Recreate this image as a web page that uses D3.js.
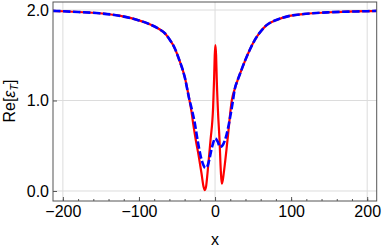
<!DOCTYPE html>
<html>
<head>
<meta charset="utf-8">
<script src="https://cdn.jsdelivr.net/npm/d3@7"></script>
<style>
body { margin: 0; background: #fff; }
svg { display: block; font-family: "Liberation Sans", Arial, sans-serif; }
</style>
</head>
<body>
<script>
// values
var redX = [-213, -200, -180, -152, -126, -100, -86, -73, -66, -60, -53, -47, -40, -34, -31, -28.8, -25.3, -21.3, -17.8, -15.1, -13.4, -11.6, -9.9, -5.9, -2.5, -1.2, -0.4, 0.5, 1.4, 2.2, 3.8, 5.9, 7.6, 8.8, 10.2, 11.8, 16.4, 22, 26, 29.5, 32.6, 39, 45.7, 52, 58.8, 67.4, 80.6, 98, 116, 133, 151, 175, 200, 213];
var redY = [1.99, 1.986, 1.978, 1.964, 1.937, 1.885, 1.843, 1.787, 1.743, 1.677, 1.578, 1.448, 1.264, 1.02, 0.88, 0.748, 0.564, 0.379, 0.196, 0.048, 0.01, 0.06, 0.196, 0.564, 0.932, 1.25, 1.5, 1.613, 1.5, 1.25, 0.89, 0.564, 0.22, 0.08, 0.12, 0.22, 0.564, 1.0, 1.13, 1.22, 1.29, 1.43, 1.56, 1.665, 1.75, 1.83, 1.89, 1.935, 1.955, 1.967, 1.975, 1.982, 1.987, 1.99];

var blueX = [-213, -200, -180, -152, -126, -100, -86, -73, -66, -60, -53, -47, -40, -34, -30.5, -26.6, -23, -18.7, -15.5, -12.8, -10, -8.2, -3.8, 0.3, 3.5, 6.5, 9.5, 12.5, 15.1, 19.5, 23, 26, 29.5, 32.6, 39, 45.7, 52, 58.8, 67.4, 80.6, 98, 116, 133, 151, 175, 200, 213];
var blueY = [1.99, 1.986, 1.978, 1.964, 1.937, 1.885, 1.843, 1.787, 1.743, 1.677, 1.578, 1.448, 1.264, 1.02, 0.9, 0.748, 0.564, 0.379, 0.29, 0.255, 0.275, 0.324, 0.49, 0.58, 0.545, 0.488, 0.5, 0.55, 0.62, 0.8, 0.97, 1.13, 1.22, 1.29, 1.43, 1.56, 1.665, 1.75, 1.83, 1.89, 1.935, 1.955, 1.967, 1.975, 1.982, 1.987, 1.99];

var xMajor = [-200, -100, 0, 100, 200];
var xMinor = d3.range(-200, 201, 20);
var yMajor = [0, 1, 2];

var width = 382, height = 250;
var frameL = 53, frameR = 376.7, frameT = 2, frameB = 201;

var x = d3.scaleLinear().domain([-213, 212.5]).range([frameL, frameR]);
var y = d3.scaleLinear().domain([-0.1105, 2.0884]).range([frameB, frameT]);

var svg = d3.select('body').append('svg')
	.attr('width', width)
	.attr('height', height);

svg.append('clipPath').attr('id', 'frame')
	.append('rect')
	.attr('x', frameL).attr('y', frameT)
	.attr('width', frameR - frameL).attr('height', frameB - frameT);

// grid
var grid = svg.append('g').attr('stroke', '#dcdcdc').attr('stroke-width', 1);
grid.selectAll('.gx').data(xMajor.filter(function(d) { return d != -100 && d != 100; }))
	.enter().append('line')
	.attr('x1', x).attr('x2', x)
	.attr('y1', frameT).attr('y2', frameB);
grid.selectAll('.gy').data(yMajor)
	.enter().append('line')
	.attr('x1', frameL).attr('x2', frameR)
	.attr('y1', y).attr('y2', y);

// axes
var fmtX = function(d) { return d < 0 ? '\u2212' + Math.abs(d) : d; };

svg.append('g')
	.attr('transform', 'translate(0,' + frameB + ')')
	.call(d3.axisBottom(x).tickValues(xMinor).tickSize(-2).tickFormat(''))
	.call(function(g) { g.select('.domain').remove(); });

var xAxis = svg.append('g')
	.attr('transform', 'translate(0,' + frameB + ')')
	.call(d3.axisBottom(x).tickValues(xMajor).tickSize(-4).tickPadding(5).tickFormat(fmtX));

var yAxis = svg.append('g')
	.attr('transform', 'translate(' + frameL + ',0)')
	.call(d3.axisLeft(y).tickValues(yMajor).tickSize(-4).tickPadding(4).tickFormat(d3.format('.1f')));

[xAxis, yAxis].forEach(function(g) {
	g.select('.domain').remove();
	g.selectAll('text').attr('font-size', 16).attr('fill', '#000').attr('font-family', '"Liberation Sans", Arial, sans-serif');
});
svg.selectAll('.tick line').attr('stroke', '#555');

// curves
var line = d3.line().curve(d3.curveMonotoneX);
var plot = svg.append('g').attr('clip-path', 'url(#frame)');

plot.append('path')
	.attr('d', line(redX.map(function(d, i) { return [x(d), y(redY[i])]; })))
	.attr('fill', 'none')
	.attr('stroke', '#ff0000')
	.attr('stroke-width', 2.2);

plot.append('path')
	.attr('d', line(blueX.map(function(d, i) { return [x(d), y(blueY[i])]; })))
	.attr('fill', 'none')
	.attr('stroke', '#0000ff')
	.attr('stroke-width', 2.6)
	.attr('stroke-dasharray', '7.5,2.5');

// frame
svg.append('rect')
	.attr('x', frameL).attr('y', frameT)
	.attr('width', frameR - frameL).attr('height', frameB - frameT)
	.attr('fill', 'none')
	.attr('stroke', '#555')
	.attr('stroke-width', 1);

// axis labels
svg.append('text')
	.attr('x', 215).attr('y', 245)
	.attr('text-anchor', 'middle')
	.attr('font-size', 16)
	.text('x');

var yl = svg.append('text')
	.attr('transform', 'translate(15,101) rotate(-90)')
	.attr('text-anchor', 'middle')
	.attr('font-size', 16);
yl.append('tspan').text('Re[');
yl.append('tspan').attr('font-style', 'italic').text('\u03b5');
yl.append('tspan').attr('font-style', 'italic').attr('font-size', 11).attr('dy', 3).text('T');
yl.append('tspan').attr('dy', -3).text(']');
</script>
</body>
</html>
